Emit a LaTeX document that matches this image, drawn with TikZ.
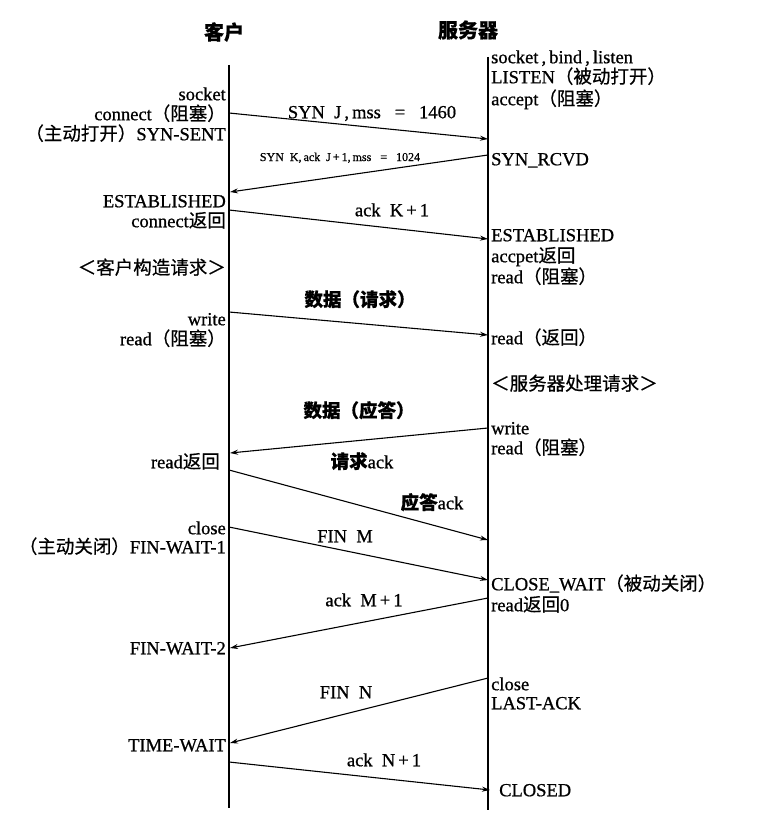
\documentclass[tikz,border=0pt]{standalone}
\usepackage{fontspec}
\setmainfont{Liberation Serif}[FakeBold=0.8]
\newfontfamily\cjk{Noto Sans CJK SC}[FakeBold=0.6]
\newfontfamily\cjkb{Noto Sans CJK SC Bold}
\newcommand{\zh}[1]{{\cjk #1}}
\newcommand{\zhb}[1]{{\cjk\bfseries #1}}
\usetikzlibrary{arrows.meta}
\begin{document}
\begin{tikzpicture}[x=1pt,y=-1pt,
  lbl/.style={inner sep=0pt,font=\fontsize{18.5}{20}\selectfont,text height=12.5pt,text depth=0pt},
  cl/.style={lbl,anchor=east},
  sv/.style={lbl,anchor=west},
  msg/.style={lbl,anchor=center},
  title/.style={inner sep=0pt,font=\fontsize{20}{22}\selectfont\cjk\bfseries},
  life/.style={line width=1.3pt},
  arr/.style={line width=1.1pt,-{Stealth[length=8pt,width=5pt]}}]
\useasboundingbox (0,0) rectangle (768,824);
% titles
\node[title] (tc) at (224,32) {客户};
\node[title] (ts) at (468,30) {服务器};
% lifelines
\coordinate (ctop) at (229,65);
\coordinate (cbot) at (229,808);
\coordinate (stop) at (488,57);
\coordinate (sbot) at (488,810);
\draw[life] (ctop) -- (cbot);
\draw[life] (stop) -- (sbot);
% endpoints
\coordinate (c1) at (229,113); \coordinate (s1) at (488,139);
\coordinate (s2) at (488,155); \coordinate (c2) at (230,192);
\coordinate (c3) at (229,210); \coordinate (s3) at (488,239);
\coordinate (c4) at (229,312); \coordinate (s4) at (488,335);
\coordinate (s5) at (488,428); \coordinate (c5) at (230,453);
\coordinate (c6) at (229,470); \coordinate (s6) at (488,540);
\coordinate (c7) at (229,527); \coordinate (s7) at (488,580);
\coordinate (s8) at (488,598); \coordinate (c8) at (230,648);
\coordinate (s9) at (488,678); \coordinate (c9) at (230,743);
\coordinate (c10) at (229,762); \coordinate (s10) at (490,790);
\draw[arr] (c1) -- (s1);
\draw[arr] (s2) -- (c2);
\draw[arr] (c3) -- (s3);
\draw[arr] (c4) -- (s4);
\draw[arr] (s5) -- (c5);
\draw[arr] (c6) -- (s6);
\draw[arr] (c7) -- (s7);
\draw[arr] (s8) -- (c8);
\draw[arr] (s9) -- (c9);
\draw[arr] (c10) -- (s10);
% message labels
\node[msg] (m1) at (372,112) {SYN\ \ J\,,\,mss \ \ = \ \ 1460};
\node[msg,font=\fontsize{12}{13}\selectfont,text height=8pt] (m2) at (340,157) {SYN\ \ K,\,ack\ \ J\,+\,1,\,mss \ \ = \ \ 1024};
\node[msg] (m3) at (392,210) {ack\ \ K\,+\,1};
\node[msg] (m4) at (360,300) {\zhb{数据（请求）}};
\node[msg] (m5) at (359,411) {\zhb{数据（应答）}};
\node[msg] (m6) at (362,462) {\zhb{请求}ack};
\node[msg] (m7) at (432,503) {\zhb{应答}ack};
\node[msg] (m8) at (345,536) {FIN\ \ M};
\node[msg] (m9) at (364,600) {ack\ \ M\,+\,1};
\node[msg] (m10) at (346,692) {FIN\ \ N};
\node[msg] (m11) at (384,760) {ack\ \ N\,+\,1};
% client labels
\node[cl] (a1) at (226,94) {socket};
\node[cl] (a2) at (226,114) {connect\zh{（阻塞）}};
\node[cl] (a3) at (226,134) {\zh{（主动打开）}SYN-SENT};
\node[cl] (a4) at (226,201) {ESTABLISHED};
\node[cl] (a5) at (226,221) {connect\zh{返回}};
\node[cl] (a6) at (226,268) {\zh{＜客户构造请求＞}};
\node[cl] (a7) at (226,319) {write};
\node[cl] (a8) at (226,339) {read\zh{（阻塞）}};
\node[cl] (a9) at (220,462) {read\zh{返回}};
\node[cl] (a10) at (226,528) {close};
\node[cl] (a11) at (226,547) {\zh{（主动关闭）}FIN-WAIT-1};
\node[cl] (a12) at (226,648) {FIN-WAIT-2};
\node[cl] (a13) at (226,745) {TIME-WAIT};
% server labels
\node[sv] (b1) at (491,57) {socket\,,\,bind\,,\,listen};
\node[sv] (b2) at (491,77) {LISTEN\zh{（被动打开）}};
\node[sv] (b3) at (491,99) {accept\zh{（阻塞）}};
\node[sv] (b4) at (491,159) {SYN\_RCVD};
\node[sv] (b5) at (491,235) {ESTABLISHED};
\node[sv] (b6) at (491,256) {accpet\zh{返回}};
\node[sv] (b7) at (491,277) {read\zh{（阻塞）}};
\node[sv] (b8) at (491,338) {read\zh{（返回）}};
\node[sv] (b9) at (491,384) {\zh{＜服务器处理请求＞}};
\node[sv] (b10) at (491,428) {write};
\node[sv] (b11) at (491,448) {read\zh{（阻塞）}};
\node[sv] (b12) at (491,584) {CLOSE\_WAIT\zh{（被动关闭）}};
\node[sv] (b13) at (491,605) {read\zh{返回}0};
\node[sv] (b14) at (491,684) {close};
\node[sv] (b15) at (491,703) {LAST-ACK};
\node[sv] (b16) at (499,790) {CLOSED};
\end{tikzpicture}
\end{document}
